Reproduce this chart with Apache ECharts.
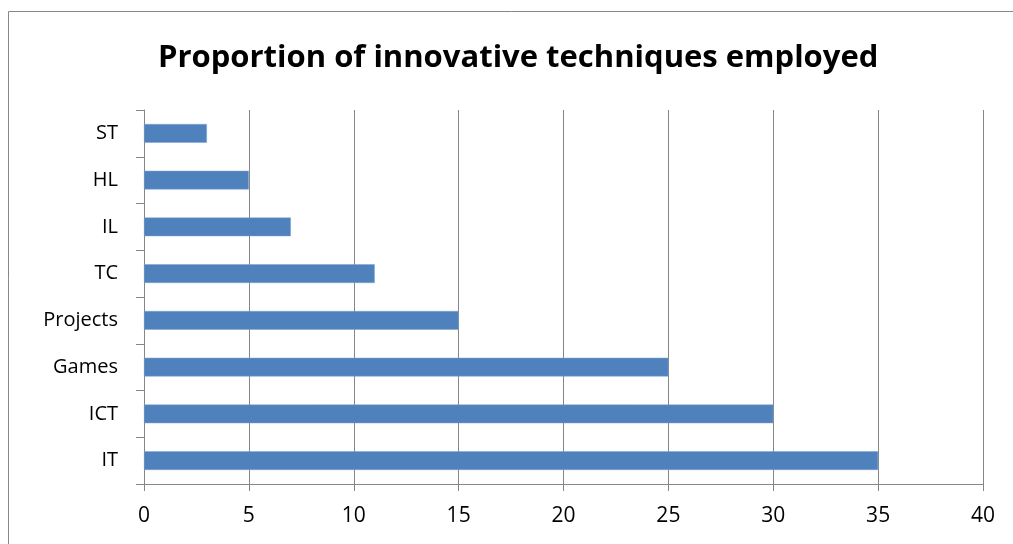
<!DOCTYPE html>
<html><head><meta charset="utf-8">
<script src="https://cdn.jsdelivr.net/npm/echarts@6/dist/echarts.min.js"></script>
<style>html,body{margin:0;padding:0;background:#fff}#c{width:1013px;height:544px}</style>
</head><body><div id="c"></div>
<script>
const categories = ['IT','ICT','Games','Projects','TC','IL','HL','ST'];
const values = [35,30,25,15,11,7,5,3];
const xTicks = [0,5,10,15,20,25,30,35,40];
const title = 'Proportion of innovative techniques employed';

const chart = echarts.init(document.getElementById('c'), null, {renderer:'canvas'});
const font = "'Open Sans', 'Liberation Sans', sans-serif";
chart.setOption({
  animation:false,
  title:{text:title,left:153,top:38,textStyle:{fontFamily:font,fontWeight:'bold',fontSize:31,color:'#000'}},
  graphic:[{type:'rect',shape:{x:8.5,y:11.5,width:1010,height:540},style:{fill:'none',stroke:'#878787',lineWidth:1},silent:true}],
  grid:{left:144,right:30,top:110,bottom:60,containLabel:false},
  xAxis:{type:'value',min:xTicks[0],max:xTicks[xTicks.length-1],interval:5,
    axisLine:{show:true,lineStyle:{color:'#868686',width:1}},
    axisTick:{show:true,length:7,lineStyle:{color:'#868686'}},
    splitLine:{show:true,lineStyle:{color:'#868686',width:1}},
    axisLabel:{fontFamily:font,fontSize:21,color:'#000',margin:22}},
  yAxis:{type:'category',data:categories,
    axisLine:{show:true,lineStyle:{color:'#868686',width:1}},
    axisTick:{show:true,length:8,lineStyle:{color:'#868686'}},
    axisLabel:{fontFamily:font,fontSize:20,color:'#000',margin:26}},
  series:[{type:'bar',data:values,barCategoryGap:'60%',itemStyle:{color:'#4f81bd',borderColor:'#7ea3d0',borderWidth:0.5}}]
});
</script></body></html>
